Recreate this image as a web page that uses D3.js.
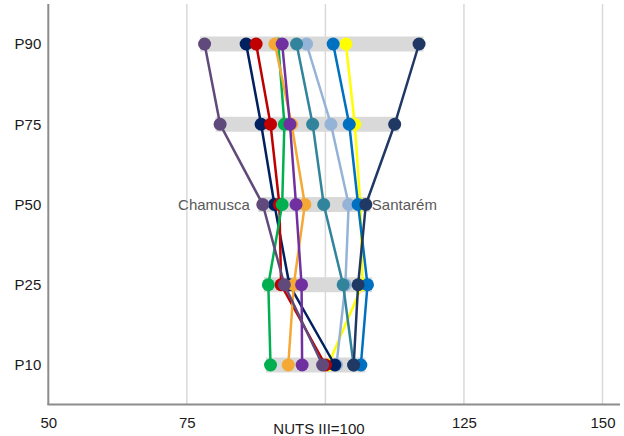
<!DOCTYPE html>
<html>
<head>
<meta charset="utf-8">
<script src="https://cdn.jsdelivr.net/npm/d3@7"></script>
<style>
  body { margin: 0; background: #fff; }
  text { font-family: "Liberation Sans", Arial, sans-serif; }
</style>
</head>
<body>
<svg id="chart" width="624" height="436"></svg>
<script>
// percentiles, top to bottom
const percentiles = ["P90", "P75", "P50", "P25", "P10"];
const xTicks = [50, 75, 125, 150];
const xTitle = "NUTS III=100";

// one row per municipality, values in percentile order (P90..P10), NUTS III = 100
// draw order matters for overlaps, so labelled ones come last
const seriesNames = ["s1", "s2", "s3", "s4", "s5", "s6", "s7", "s8", "s9", "Chamusca", "Santarém"];
const seriesColors = ["#FFFF00", "#95B3D7", "#31849B", "#0070C0", "#002060", "#C00000",
                      "#00B050", "#F5A833", "#7030A0", "#604A7B", "#1F3864"];
const seriesValues = [
  [103.7, 105.3, 106.3, 106.7, 100.5],
  [96.6, 101.0, 104.2, 103.6, 102.0],
  [94.8, 97.7, 99.7, 103.2, 105.1],
  [101.4, 104.3, 105.9, 107.6, 106.4],
  [85.7, 88.4, 90.8, 93.5, 101.7],
  [87.5, 90.1, 91.7, 92.0, 100.0],
  [91.5, 92.6, 92.2, 89.7, 90.1],
  [90.9, 93.9, 96.3, 94.3, 93.3],
  [92.2, 93.6, 94.7, 95.7, 95.8],
  [78.2, 81.0, 88.7, 92.6, 99.5],
  [116.9, 112.5, 107.3, 105.9, 105.1]
];
const labelled = { "Chamusca": "left", "Santarém": "right" };

const svg = d3.select("#chart");

const x = d3.scaleLinear().domain([50, 150]).range([48.3, 602.5]);
const y = d3.scalePoint().domain(percentiles).range([44, 365]);
const plotTop = 4, plotBottom = 404.5, plotRight = 620;

// gridlines
svg.append("g")
  .selectAll("line")
  .data([75, 100, 125, 150])
  .enter().append("line")
  .attr("x1", d => x(d)).attr("x2", d => x(d))
  .attr("y1", plotTop).attr("y2", plotBottom)
  .attr("stroke", "#d9d9d9")
  .attr("stroke-width", 1.5);

// axis lines
svg.append("line")
  .attr("x1", x(50)).attr("x2", x(50))
  .attr("y1", plotTop).attr("y2", plotBottom)
  .attr("stroke", "#8c8c8c").attr("stroke-width", 2);
svg.append("line")
  .attr("x1", x(50) - 1).attr("x2", plotRight)
  .attr("y1", plotBottom).attr("y2", plotBottom)
  .attr("stroke", "#8c8c8c").attr("stroke-width", 2);

// y labels
const yAxis = d3.axisLeft(y).tickSize(0).tickPadding(6);
const yg = svg.append("g").attr("transform", `translate(${x(50) - 1},0)`).call(yAxis);
yg.select(".domain").remove();
yg.selectAll("text").style("font-size", "15px").attr("fill", "#1a1a1a")
  .style("font-family", '"Liberation Sans", Arial, sans-serif');

// x labels
const xAxis = d3.axisBottom(x).tickValues(xTicks).tickSize(0).tickPadding(13);
const xg = svg.append("g").attr("transform", `translate(0,${plotBottom})`).call(xAxis);
xg.select(".domain").remove();
xg.selectAll("text").style("font-size", "15px").attr("fill", "#1a1a1a")
  .style("font-family", '"Liberation Sans", Arial, sans-serif');

svg.append("text")
  .attr("x", 319).attr("y", 433.5)
  .attr("text-anchor", "middle")
  .style("font-size", "15px").attr("fill", "#1a1a1a")
  .text(xTitle);

// grey min-max bands
const bands = percentiles.map((p, i) => {
  const vals = seriesValues.map(s => s[i]);
  return { p: p, min: d3.min(vals), max: d3.max(vals) };
});
svg.append("g")
  .selectAll("line")
  .data(bands)
  .enter().append("line")
  .attr("x1", d => x(d.min) - 4.5).attr("x2", d => x(d.max) + 4.5)
  .attr("y1", d => y(d.p)).attr("y2", d => y(d.p))
  .attr("stroke", "#d9d9d9")
  .attr("stroke-width", 15);

// series lines + markers
const line = d3.line()
  .x(d => x(d.v))
  .y(d => y(d.p));

seriesValues.forEach((vals, k) => {
  const pts = vals.map((v, i) => ({ p: percentiles[i], v: v }));
  const g = svg.append("g");
  g.append("path")
    .datum(pts)
    .attr("d", line)
    .attr("fill", "none")
    .attr("stroke", seriesColors[k])
    .attr("stroke-width", 2.5);
  g.selectAll("circle")
    .data(pts)
    .enter().append("circle")
    .attr("cx", d => x(d.v))
    .attr("cy", d => y(d.p))
    .attr("r", 6.5)
    .attr("fill", seriesColors[k]);
});

// municipality labels at P50
seriesNames.forEach((name, k) => {
  const side = labelled[name];
  if (!side) return;
  const v = seriesValues[k][percentiles.indexOf("P50")];
  svg.append("text")
    .attr("x", side === "left" ? x(v) - 13 : x(v) + 6)
    .attr("y", y("P50"))
    .attr("dy", "0.35em")
    .attr("text-anchor", side === "left" ? "end" : "start")
    .style("font-size", "15px")
    .attr("fill", "#595959")
    .text(name);
});
</script>
</body>
</html>
